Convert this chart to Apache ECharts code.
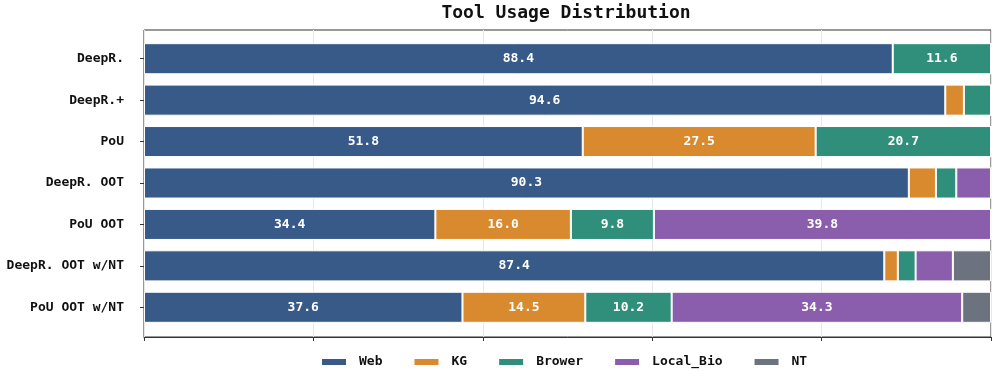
<!DOCTYPE html>
<html>
<head>
<meta charset="utf-8">
<script src="https://cdn.jsdelivr.net/npm/echarts@6/dist/echarts.min.js"></script>
<style>
  html, body { margin: 0; padding: 0; background: #fff; }
  #chart { width: 997px; height: 371px; }
</style>
</head>
<body>
<div id="chart"></div>
<script>
const chart = echarts.init(document.getElementById("chart"));

const categories = ["DeepR.", "DeepR.+", "PoU", "DeepR. OOT", "PoU OOT", "DeepR. OOT w/NT", "PoU OOT w/NT"];
const web = [88.4, 94.6, 51.8, 90.3, 34.4, 87.4, 37.6];
const kg = [0, 2.2, 27.5, 3.2, 16.0, 1.6, 14.5];
const brower = [11.6, 3.2, 20.7, 2.4, 9.8, 2.1, 10.2];
const localBio = [0, 0, 0, 4.1, 39.8, 4.4, 34.3];
const nt = [0, 0, 0, 0, 0, 4.5, 3.4];

const mono = "DejaVu Sans Mono";

function makeSeries(name, data, color) {
  return {
    name: name,
    type: "bar",
    stack: "total",
    xAxisIndex: 1,
    yAxisIndex: 1,
    barWidth: "75%",
    data: data,
    itemStyle: { color: color, borderColor: "#fff", borderWidth: 1 },
    label: {
      show: true,
      position: "inside",
      color: "#fff",
      fontFamily: mono,
      fontWeight: "bold",
      fontSize: 13,
      formatter: (p) => (p.value > 5 ? p.value.toFixed(1) : ""),
    },
  };
}

chart.setOption({
  animation: false,
  title: {
    text: "Tool Usage Distribution",
    left: 561,
    textAlign: "center",
    top: -1,
    textStyle: { fontFamily: mono, fontWeight: "bold", fontSize: 18, color: "#111" },
  },
  legend: {
    top: 348,
    left: 315,
    itemWidth: 26,
    itemHeight: 8,
    itemGap: 30,
    icon: "rect",
    textStyle: { fontFamily: mono, fontWeight: "bold", fontSize: 13, lineHeight: 18, color: "#111", padding: [0, 0, 0, 7] },
    data: ["Web", "KG", "Brower", "Local_Bio", "NT"],
  },
  grid: [
    // frame with gridlines
    { left: 144, right: 6, top: 30, bottom: 34, show: true, borderColor: "#333", borderWidth: 1 },
    // bars
    { left: 144, right: 6, top: 38, bottom: 43 },
  ],
  xAxis: [{
    gridIndex: 0,
    type: "value",
    min: 0,
    max: 100,
    interval: 20,
    axisLabel: { show: false },
    axisTick: { show: true, length: 4, lineStyle: { color: "#333" } },
    axisLine: { show: true, lineStyle: { color: "#333" } },
    splitLine: { show: true, lineStyle: { color: "#e8e8e8" } },
  }, {
    gridIndex: 1,
    type: "value",
    min: 0,
    max: 100,
    show: false,
  }],
  yAxis: [{
    gridIndex: 0,
    type: "value",
    show: false,
  }, {
    gridIndex: 1,
    type: "category",
    inverse: true,
    data: categories,
    axisTick: { show: true, alignWithLabel: true, length: 4, lineStyle: { color: "#333" } },
    axisLine: { show: false },
    axisLabel: { fontFamily: mono, fontWeight: "bold", fontSize: 13, color: "#111", margin: 20 },
  }],
  series: [
    makeSeries("Web", web, "#375a89"),
    makeSeries("KG", kg, "#da8a2e"),
    makeSeries("Brower", brower, "#2f8f7b"),
    makeSeries("Local_Bio", localBio, "#8b5dad"),
    makeSeries("NT", nt, "#6c737f"),
  ],
});
</script>
</body>
</html>
